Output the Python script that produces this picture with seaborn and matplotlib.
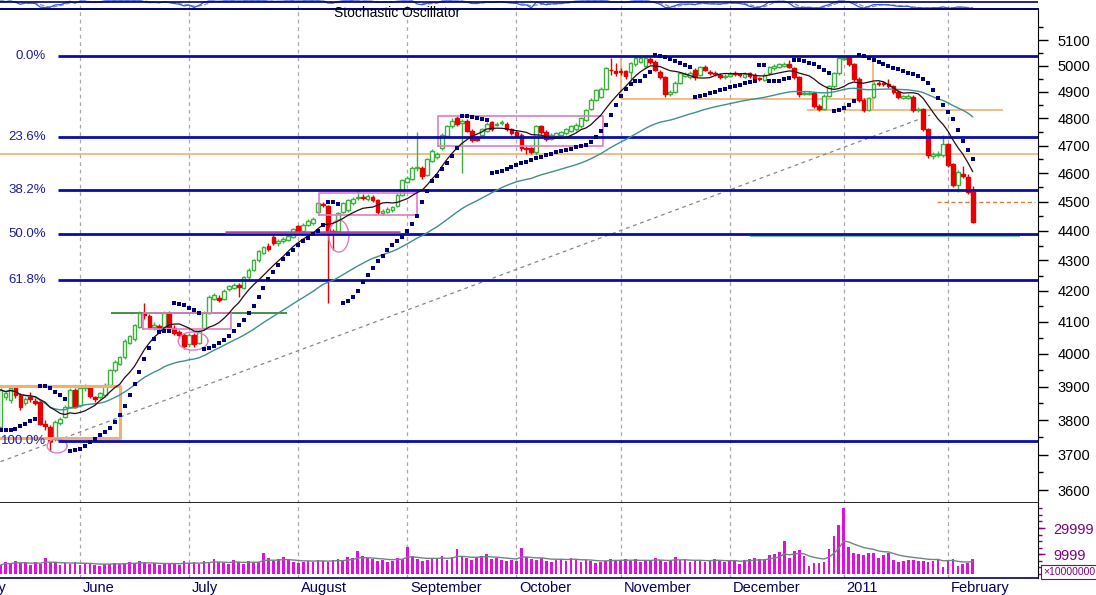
import numpy as np
import pandas as pd
import matplotlib
matplotlib.use('Agg')
import matplotlib.pyplot as plt
import matplotlib.ticker as mticker
import matplotlib.transforms as mtransforms
import seaborn as sns

# ---- daily bars (one value per trading day) ----
start_date = '2010-05-10'

opens = [
    3780, 3870, 3860, 3900, 3875, 3852, 3868, 3858, 3855, 3790, 3780, 3745, 3792, 3810, 3840, 3890,
    3845, 3895, 3902, 3868, 3868, 3875, 3905, 3950, 3970, 3990, 4035, 4045, 4085, 4128, 4120, 4085, 4087, 4085, 4130, 4080, 4068, 4060,
    4030, 4060, 4035, 4080, 4130, 4175, 4178, 4175, 4205, 4210, 4218, 4210, 4245, 4270, 4300, 4325, 4350, 4378, 4358, 4364, 4370, 4380,
    4415, 4400, 4420, 4425, 4465, 4492, 4485, 4400, 4400, 4465, 4470, 4495, 4512, 4518, 4510, 4518, 4505, 4462, 4465, 4470, 4485, 4525,
    4570, 4580, 4618, 4620, 4595, 4645, 4660, 4690, 4735, 4770, 4800, 4782, 4790, 4755, 4728, 4740, 4755, 4785, 4775, 4782, 4780, 4760,
    4750, 4740, 4692, 4690, 4675, 4770, 4750, 4725, 4735, 4740, 4745, 4755, 4760, 4770, 4795, 4835, 4870, 4880, 4910, 4985, 4978,
    4978, 4978, 4975, 5005, 5015, 5000, 5025, 5015, 4975, 4955, 4890, 4900, 4935, 4960, 4955, 4985, 4965, 4995, 4975, 4972, 4965, 4955,
    4960, 4970, 4966, 4958, 4970, 4965, 4952, 4945, 4970, 4990, 4995, 5000, 5008, 4990, 4955, 4893, 4893, 4895, 4845, 4835, 4885, 4920, 4970,
    5025, 5035, 5005, 4950, 4870, 4830, 4880, 4935, 4932, 4930, 4920, 4900, 4878, 4878, 4880, 4830, 4835, 4760, 4663, 4665, 4665,
    4705, 4632, 4560, 4598, 4588, 4535,
]
highs = [
    3895, 3888, 3900, 3903, 3882, 3870, 3885, 3865, 3860, 3800, 3785, 3800, 3810, 3845, 3895, 3895,
    3900, 3908, 3906, 3872, 3885, 3910, 3955, 3980, 3995, 4045, 4060, 4095, 4135, 4160, 4125, 4100, 4095, 4135, 4135, 4090, 4075, 4065,
    4065, 4065, 4075, 4135, 4185, 4192, 4185, 4205, 4220, 4226, 4225, 4250, 4275, 4305, 4335, 4350, 4358, 4385, 4372, 4378, 4388, 4410,
    4420, 4425, 4440, 4446, 4500, 4498, 4490, 4405, 4465, 4500, 4510, 4516, 4540, 4528, 4526, 4524, 4510, 4474, 4480, 4486, 4530, 4580,
    4592, 4626, 4750, 4626, 4656, 4686, 4676, 4746, 4776, 4800, 4810, 4798, 4796, 4760, 4735, 4766, 4786, 4792, 4786, 4795, 4786, 4766,
    4756, 4745, 4698, 4695, 4776, 4776, 4756, 4746, 4750, 4754, 4766, 4776, 4782, 4806, 4836, 4876, 4912, 4918, 4996, 5030, 5010,
    4990, 4985, 5015, 5036, 5040, 5036, 5032, 5020, 4982, 4960, 4906, 4940, 4976, 4975, 4978, 4990, 5000, 5002, 4985, 4980, 4972, 4966,
    4975, 4978, 4972, 4975, 4976, 4970, 4958, 4970, 5000, 5006, 5010, 5014, 5022, 4996, 4960, 4902, 4904, 4900, 4852, 4890, 4926, 4976, 5036,
    5040, 5042, 5010, 4955, 4876, 4880, 4936, 4940, 4940, 4950, 4926, 4905, 4888, 4890, 4886, 4842, 4840, 4766, 4675, 4680, 4740,
    4710, 4638, 4612, 4625, 4596, 4555,
]
lows = [
    3770, 3860, 3850, 3865, 3830, 3845, 3855, 3845, 3785, 3770, 3710, 3740, 3785, 3805, 3835, 3835,
    3840, 3888, 3865, 3855, 3862, 3870, 3900, 3945, 3965, 3985, 4030, 4040, 4080, 4110, 4080, 4075, 4070, 4080, 4080, 4060, 4050, 4015,
    4020, 4022, 4030, 4075, 4125, 4170, 4165, 4170, 4198, 4205, 4180, 4205, 4240, 4265, 4295, 4320, 4330, 4352, 4350, 4358, 4365, 4375,
    4392, 4395, 4415, 4420, 4460, 4480, 4160, 4335, 4395, 4460, 4465, 4490, 4506, 4505, 4504, 4498, 4458, 4455, 4460, 4465, 4480, 4520,
    4565, 4575, 4610, 4580, 4590, 4640, 4652, 4685, 4730, 4765, 4772, 4600, 4748, 4712, 4715, 4735, 4750, 4754, 4770, 4776, 4754, 4738,
    4728, 4682, 4670, 4668, 4665, 4744, 4718, 4720, 4730, 4735, 4740, 4750, 4755, 4765, 4790, 4830, 4865, 4875, 4905, 4965, 4960,
    4965, 4950, 4940, 5000, 5010, 4995, 5008, 4978, 4948, 4880, 4884, 4895, 4930, 4955, 4950, 4945, 4960, 4978, 4962, 4960, 4948, 4950,
    4955, 4960, 4955, 4952, 4954, 4944, 4940, 4940, 4965, 4985, 4990, 4995, 4990, 4948, 4880, 4886, 4888, 4838, 4828, 4830, 4880, 4915, 4965,
    5020, 4998, 4942, 4860, 4825, 4826, 4875, 4922, 4920, 4915, 4892, 4872, 4872, 4872, 4822, 4825, 4752, 4655, 4650, 4658, 4658,
    4622, 4552, 4535, 4582, 4528, 4425,
]
closes = [
    3890, 3880, 3895, 3875, 3840, 3862, 3863, 3852, 3790, 3782, 3740, 3795, 3802, 3840, 3890, 3840,
    3895, 3900, 3872, 3862, 3880, 3905, 3950, 3975, 3990, 4040, 4055, 4090, 4130, 4122, 4085, 4092, 4080, 4130, 4085, 4065, 4060, 4025,
    4060, 4030, 4070, 4130, 4180, 4185, 4172, 4200, 4215, 4220, 4212, 4245, 4270, 4300, 4330, 4345, 4338, 4360, 4366, 4372, 4382, 4405,
    4400, 4420, 4435, 4440, 4495, 4488, 4395, 4392, 4460, 4495, 4505, 4510, 4518, 4512, 4520, 4505, 4465, 4468, 4475, 4480, 4525, 4575,
    4585, 4620, 4622, 4590, 4650, 4680, 4668, 4740, 4770, 4790, 4780, 4790, 4755, 4720, 4722, 4760, 4780, 4760, 4780, 4786, 4760, 4745,
    4735, 4690, 4688, 4675, 4770, 4750, 4725, 4740, 4745, 4748, 4760, 4770, 4775, 4800, 4830, 4870, 4905, 4910, 4990, 4982, 4972,
    4975, 4960, 5010, 5030, 5028, 5030, 5015, 4985, 4955, 4890, 4900, 4935, 4970, 4968, 4970, 4955, 4995, 4985, 4970, 4968, 4955, 4960,
    4968, 4966, 4962, 4968, 4960, 4950, 4948, 4965, 4995, 5000, 5005, 5008, 4995, 4955, 4890, 4895, 4897, 4845, 4835, 4885, 4920, 4970, 5030,
    5030, 5005, 4950, 4870, 4830, 4875, 4930, 4930, 4928, 4922, 4900, 4880, 4882, 4883, 4830, 4835, 4760, 4665, 4668, 4670, 4705,
    4630, 4560, 4605, 4590, 4535, 4430,
]
# volume in units of 10,000,000
volumes = [
    1500, 3800, 2300, 4600, 3100, 3800, 1500, 3800, 2300, 6900, 3100, 3800, 1500, 3100, 2300, 3800,
    1500, 3100, 2300, 1500, 800, 2300, 2300, 3100, 2300, 3100, 3800, 3100, 4600, 3800, 2300, 3100, 1500, 2300, 2300, 3100, 1500, 4600,
    3100, 3800, 2300, 4600, 3800, 6100, 3800, 3100, 2300, 5400, 3800, 2300, 4600, 3100, 3800, 10700, 6900, 4600, 6100, 7700, 5400, 3800,
    3100, 3800, 4600, 3800, 5400, 4600, 3800, 5400, 6100, 4600, 7700, 6900, 12300, 8400, 6900, 6100, 4600, 5400, 3800, 4600, 6900, 6100,
    15400, 8400, 6100, 4600, 5400, 6900, 6100, 8400, 5400, 7700, 13800, 8400, 6900, 5400, 7700, 8400, 10000, 6100, 6900, 5400, 4600, 5400,
    4600, 14600, 7700, 6100, 5400, 6900, 4600, 3800, 5400, 6100, 4600, 6900, 6100, 3800, 5400, 4600, 3100, 3800, 4600, 6100, 5400,
    5400, 6100, 4600, 6100, 3800, 5400, 4600, 6900, 5400, 3800, 4600, 7700, 5400, 6100, 3800, 4600, 5400, 3800, 4600, 6100, 5400, 3800,
    4600, 5400, 2300, 5400, 6100, 6900, 6100, 6100, 9200, 10000, 11500, 20000, 6900, 12300, 13100, 8400, 800, 3100, 3100, 3800, 13800, 23800, 32300,
    45400, 15400, 10700, 10000, 9200, 10700, 10700, 6900, 9200, 10700, 5400, 3800, 4600, 5400, 5400, 4600, 4600, 3800, 4600, 6100, 100,
    5400, 6100, 800, 2300, 3100, 6100,
]

fib_high = 5037
fib_low = 3739
fib_ratios = [0.0, 23.6, 38.2, 50.0, 61.8, 100.0]

price_ticks = list(range(3600, 5101, 100))
vol_ticks = [9999, 29999]
month_labels = ['June', 'July', 'August', 'September', 'October', 'November',
                'December', '2011', 'February']

# hand-drawn study lines (bar index, price)
trend_x = [0, 187.4]
trend_p = [3680, 4812]

sns.set_style('white')
plt.rcParams['font.family'] = ['Liberation Sans', 'DejaVu Sans']

GREEN = '#3cb23c'
RED = '#e80000'
NAVY = '#000070'
FIB = '#0a0ab0'
ORANGE = '#f2b070'
PINK = '#e07cc4'
PURPLE = '#800080'


def psar(high, low, step=0.02, cap=0.2):
    out = np.zeros(len(high))
    bull, af, ep = True, step, high[0]
    out[0] = low[0]
    for i in range(1, len(high)):
        s = out[i - 1] + af * (ep - out[i - 1])
        if bull:
            s = min(s, low[i - 1], low[max(i - 2, 0)])
            if low[i] < s:
                bull, s, ep, af = False, ep, low[i], step
            elif high[i] > ep:
                ep, af = high[i], min(af + step, cap)
        else:
            s = max(s, high[i - 1], high[max(i - 2, 0)])
            if high[i] > s:
                bull, s, ep, af = True, ep, high[i], step
            elif low[i] < ep:
                ep, af = low[i], min(af + step, cap)
        out[i] = s
    return out


n = len(closes)
idx = np.arange(n)
dates = pd.bdate_range(start_date, periods=n)
o = np.array(opens, float)
h = np.array(highs, float)
l = np.array(lows, float)
c = np.array(closes, float)
vol = np.array(volumes, float)

month_starts = [i for i in range(1, n) if dates[i].month != dates[i - 1].month]
week_starts = [i for i in range(n) if dates[i].weekday() == 0]

ma_fast = pd.Series(c).rolling(10, min_periods=1).mean()
ma_slow = pd.Series(c).ewm(span=55).mean()
vol_ma = pd.Series(vol).ewm(span=10).mean()
lo14 = pd.Series(l).rolling(14, min_periods=1).min()
hi14 = pd.Series(h).rolling(14, min_periods=1).max()
stoch_k = 100 * (pd.Series(c) - lo14) / (hi14 - lo14)
stoch_d = stoch_k.rolling(3, min_periods=1).mean()
sar = psar(h, l)

# ---- layout in pixels ----
W, H = 1096, 595
fig = plt.figure(figsize=(W / 100, H / 100), dpi=100)


def px_box(x0, y0, x1, y1):
    return [x0 / W, 1 - y1 / H, (x1 - x0) / W, (y1 - y0) / H]


ax_st = fig.add_axes(px_box(0, 0, 1038, 9))
ax = fig.add_axes(px_box(0, 9, 1038, 503))
ax_v = fig.add_axes(px_box(0, 503, 1038, 578))

bar_px = 4.96
x_lo = -0.6 / bar_px
x_hi = (1038 - 0.6) / bar_px

for a in (ax_st, ax, ax_v):
    a.set_xlim(x_lo, x_hi)
    for m in month_starts:
        a.axvline(m, color='#a9a9a9', ls=(0, (3, 3)), lw=0.9, zorder=0)

# ---- stochastic strip (mostly cut off at the top) ----
sns.lineplot(x=idx, y=stoch_d.values, ax=ax_st, color='#8898a8', lw=0.9, ls='--')
sns.lineplot(x=idx, y=stoch_k.values, ax=ax_st, color='#3a58d8', lw=0.9)
ax_st.axhline(80, color=NAVY, lw=1.2)
ax_st.set_ylim(-10, 110)
ax_st.set_axis_off()

# ---- price panel ----
ax.set_yscale('log')
up = c >= o
b_lo = np.minimum(o, c)
b_hi = np.maximum(o, c)
ax.vlines(idx[up], l[up], h[up], color=GREEN, lw=1, zorder=3)
ax.vlines(idx[~up], l[~up], h[~up], color=RED, lw=1, zorder=3)
ax.bar(idx[up], (b_hi - b_lo)[up], bottom=b_lo[up], width=0.75,
       facecolor='white', edgecolor=GREEN, lw=1, zorder=4)
ax.bar(idx[~up], (b_hi - b_lo)[~up], bottom=b_lo[~up], width=0.75,
       facecolor=RED, edgecolor=RED, lw=1, zorder=4)

# fibonacci retracement
for r in fib_ratios:
    level = fib_high - (fib_high - fib_low) * r / 100
    ax.hlines(level, 11.6, x_hi, color=FIB, lw=2, zorder=5)
    ax.text(9.15, level, f'{r:.1f}%', ha='right', va='center', color='#1c1ca8',
            fontsize=9.5, zorder=7)


def draw_box(x0, x1, p0, p1, **kw):
    ax.plot([x0, x1, x1, x0, x0], [p0, p0, p1, p1, p0], **kw)


def draw_ellipse(cx, cy, half_w, half_h, **kw):
    t = np.linspace(0, 2 * np.pi, 120)
    ax.plot(cx + half_w * np.cos(t), cy * np.exp(half_h * np.sin(t)), **kw)


ax.hlines(4669, x_lo, x_hi, color=ORANGE, lw=1.2, zorder=2)
ax.hlines(4872, 125.1, 175.9, color=ORANGE, lw=1.2, zorder=2)
ax.hlines(4831, 162.6, 202.1, color=ORANGE, lw=1.2, zorder=2)
ax.vlines(125.1, 4872, fib_high, color=ORANGE, lw=1.2, zorder=2)
ax.vlines(175.9, 4831, fib_high, color=ORANGE, lw=1.2, zorder=2)
ax.hlines(4500, 188.8, 208.6, color='#e07838', lw=1, ls=(0, (3, 2)), zorder=2)
ax.hlines(4383, 151.1, 205.5, color='#78cc78', lw=1.5, zorder=4.8)
ax.hlines(4128, 22.3, 57.7, color='#2a7a2a', lw=1.2, zorder=2)
ax.hlines(4396, 45.2, 80.5, color='#a050a0', lw=1.8, zorder=5.2)
draw_box(-0.5, 24.1, 3748, 3902, color=ORANGE, lw=2.2, zorder=4.6)
draw_box(28.7, 46.5, 4078, 4128, color=PINK, lw=1.2, zorder=4.6)
draw_box(64.2, 84.0, 4454, 4530, color=PINK, lw=1.2, zorder=4.6)
draw_box(88.2, 121.5, 4698, 4809, color=PINK, lw=1.2, zorder=4.6)
draw_ellipse(11.4, 3725, 2.0, 0.0054, color=PINK, lw=1, zorder=4.6)
draw_ellipse(38.8, 4040, 3.0, 0.0070, color=PINK, lw=1, zorder=4.6)
draw_ellipse(68.2, 4382, 2.0, 0.0124, color=PINK, lw=1, zorder=4.6)
ax.plot(trend_x, trend_p, color='#808888', lw=0.9, ls=(0, (3, 3)), zorder=2)

sns.lineplot(x=idx, y=ma_slow.values, ax=ax, color='#3f8f8f', lw=1, zorder=5.5)
sns.lineplot(x=idx, y=ma_fast.values, ax=ax, color='#2a0818', lw=0.9, zorder=5.6)
sns.scatterplot(x=idx, y=sar, ax=ax, marker='s', s=6.5, color='#00007a',
                linewidth=0, zorder=6)

ax.set_xlim(x_lo, x_hi)
ax.set_ylim(3564, 5224)
ax.set_xlabel('')
ax.set_ylabel('')
ax.yaxis.tick_right()
ax.yaxis.set_major_locator(mticker.FixedLocator(price_ticks))
ax.yaxis.set_major_formatter(mticker.FixedFormatter([str(p) for p in price_ticks]))
ax.yaxis.set_minor_locator(mticker.FixedLocator([p + 50 for p in price_ticks]))
ax.yaxis.set_minor_formatter(mticker.NullFormatter())
ax.tick_params(axis='y', which='major', direction='out', length=7, width=1,
               pad=7, labelsize=10.5, colors='black')
ax.tick_params(axis='y', which='minor', direction='out', length=3.5, width=1,
               colors='black')
ax.tick_params(axis='x', which='both', bottom=False, labelbottom=False)
ax.spines['left'].set_visible(False)
ax.spines['top'].set_color(NAVY)
ax.spines['top'].set_linewidth(1.4)
ax.spines['right'].set_color('black')
ax.spines['bottom'].set_color('black')
ax.spines['bottom'].set_linewidth(1.2)

fig.text(334 / W, 1 - 13 / H, 'Stochastic Oscillator', fontsize=10,
         va='center', ha='left', color='black')

# ---- volume panel ----
vol_base = -5400
ax_v.bar(idx, vol - vol_base, bottom=vol_base, width=0.55, color='#dd10dd',
         linewidth=0, zorder=3)
sns.lineplot(x=idx, y=vol_ma.values, ax=ax_v, color='#6f8585', lw=1, zorder=4)
ax_v.set_xlim(x_lo, x_hi)
ax_v.set_ylim(-8460, 49230)
ax_v.set_xlabel('')
ax_v.set_ylabel('')
ax_v.yaxis.tick_right()
ax_v.yaxis.set_major_locator(mticker.FixedLocator(vol_ticks))
ax_v.yaxis.set_major_formatter(mticker.FixedFormatter([str(v) for v in vol_ticks]))
ax_v.yaxis.set_minor_locator(mticker.FixedLocator(list(range(-5000, 45001, 5000))))
ax_v.yaxis.set_minor_formatter(mticker.NullFormatter())
ax_v.tick_params(axis='y', which='major', direction='out', length=5, width=1,
                 pad=6, labelsize=10.5, colors=PURPLE)
ax_v.tick_params(axis='y', which='minor', direction='out', length=3, width=1,
                 colors=PURPLE)

ax_v.set_xticks(month_starts)
ax_v.set_xticklabels(month_labels)
ax_v.set_xticks(week_starts, minor=True)
ax_v.tick_params(axis='x', which='major', direction='out', length=15, width=1,
                 color=NAVY, pad=-13, labelsize=10.5, labelcolor='#000060')
ax_v.tick_params(axis='x', which='minor', direction='out', length=5, width=1,
                 color=NAVY)
shift = mtransforms.ScaledTranslation(2 / 72, 0, fig.dpi_scale_trans)
for lbl in ax_v.get_xticklabels():
    lbl.set_ha('left')
    lbl.set_transform(lbl.get_transform() + shift)
# the May label sits mostly off the left edge, as in the source chart
ax_v.text(-5, -2.8 / 75, 'May', fontsize=10.5, color='#000060', ha='left', va='top',
          transform=mtransforms.blended_transform_factory(ax_v.transData, ax_v.transAxes) + shift,
          clip_on=False)
ax_v.spines['left'].set_visible(False)
ax_v.spines['top'].set_visible(False)
ax_v.spines['right'].set_color('black')
ax_v.spines['bottom'].set_color(NAVY)
ax_v.spines['bottom'].set_linewidth(1.2)

fig.text(1043 / W, 1 - 572 / H, '×10000000', fontsize=7.5, color=PURPLE,
         va='center', ha='left',
         bbox=dict(boxstyle='square,pad=0.15', fc='white', ec=PURPLE, lw=0.8))

fig.savefig('out.png', dpi=100)
